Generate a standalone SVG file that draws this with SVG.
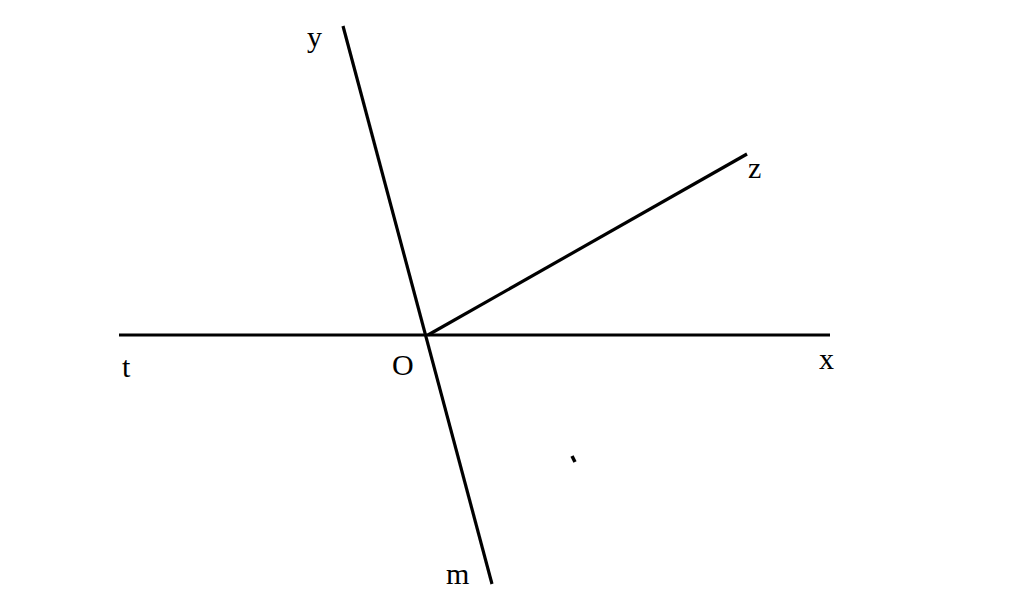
<svg xmlns="http://www.w3.org/2000/svg" width="1024" height="598" viewBox="0 0 1024 598">
<style>
.ln{stroke:#000;stroke-width:3.2;fill:none;stroke-linecap:butt}
.lb{font-family:"Liberation Serif","Times New Roman",serif;font-size:30px;fill:#000}
</style>
<rect width="1024" height="598" fill="#fff"/>
<g id="connectors">
<line class="ln" x1="119" y1="335" x2="830" y2="335"/>
<line class="ln" x1="343" y1="26" x2="492" y2="584"/>
<line class="ln" x1="428" y1="335" x2="747" y2="154"/>
<line class="ln" x1="572" y1="456" x2="575" y2="462" style="stroke-width:3.5"/>
</g>
<g id="y"><text class="lb" x="307" y="47">y</text></g>
<g id="z"><text class="lb" x="748" y="178">z</text></g>
<g id="t"><text class="lb" x="122" y="377">t</text></g>
<g id="O"><text class="lb" x="392" y="375">O</text></g>
<g id="x"><text class="lb" x="819" y="369">x</text></g>
<g id="m"><text class="lb" x="446" y="584">m</text></g>
</svg>
